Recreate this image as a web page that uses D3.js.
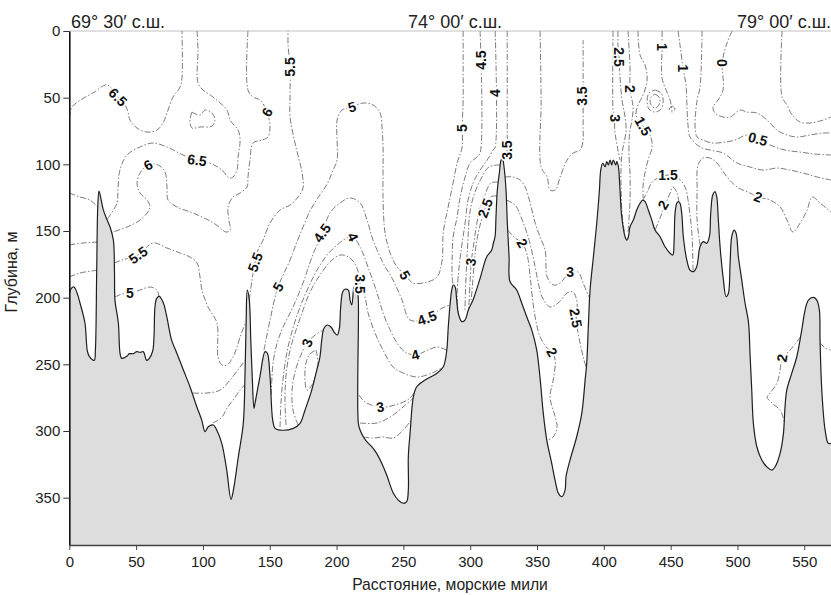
<!DOCTYPE html>
<html><head><meta charset="utf-8">
<script src="https://cdn.jsdelivr.net/npm/d3@7"></script>
<style>
html,body{margin:0;padding:0;background:#fff;}
svg{display:block;font-family:"Liberation Sans",Arial,sans-serif;}
</style></head><body>
<svg id="chart" width="831" height="595"></svg>
<script>
// ---------- DATA (distance in nautical miles, depth in m) ----------
const xTicks = [0,50,100,150,200,250,300,350,400,450,500,550];
const yTicks = [0,50,100,150,200,250,300,350];
const latLabels = [["69° 30′ с.ш.",1.3],["74° 00′ с.ш.",253.5],["79° 00′ с.ш.",499.7]];

const bottomProfile = [[0,197],[1.5,193],[3.5,192],[6,197],[8,204],[11.7,219],[13.5,240],[15,244],[18.7,247],[19.5,240],[20.5,180],[21.3,132],[22.2,120],[23.3,124],[25.4,134],[28,141],[30.5,147],[33,157],[33.8,180],[34.2,202],[36.7,219],[38,242],[39.2,245.5],[43,244],[45,242],[48,242],[50.5,240.5],[53,241],[55.4,240.5],[57.9,247],[59.9,245.5],[62.4,240],[63.4,229],[64.1,207],[65.4,200.5],[67.4,199],[70.4,204],[72.9,214],[76.6,232],[80.4,241.5],[85.3,254],[90.3,266.8],[95.4,281.8],[99.1,291.8],[101.6,300.5],[104,296.8],[107.8,295.5],[110.3,299.3],[114.1,309.3],[117.8,329.3],[121,351.3],[122.8,344.3],[126.5,319.3],[130.2,294.3],[131.5,256.8],[132.3,219.3],[133.2,194.3],[134.7,201.8],[135.8,231.8],[137,262],[138.2,283],[139,279],[142.7,259],[146.5,240.5],[148.2,241.7],[150.2,259],[152.2,291.8],[154,298],[157.7,299.3],[167.6,298],[172.7,294.2],[176.4,284.3],[181.4,269.3],[185.2,254.3],[187.6,244.3],[188.9,231.8],[190.6,223],[193.1,220.5],[195.6,221.8],[198.9,226.8],[200.6,228],[202.1,223],[203.1,206.8],[204.6,195.5],[206.3,193.7],[208.8,194.3],[210.1,201.8],[211.4,205.5],[212.6,194.3],[213.1,191.8],[214.6,190.5],[215.5,191.8],[216.3,201.8],[216.3,294.2],[217.6,299.3],[220,304.3],[222.6,308],[226.3,311.8],[230,316.8],[233.8,324.2],[237.5,333],[242.5,346.7],[246.2,351.8],[250,354.2],[252.5,353],[253.7,344.3],[253.7,319.3],[255,301.8],[257.5,274.3],[260,266.8],[266.2,261.8],[275,256.8],[279.9,251.8],[282.4,240],[283.6,222],[284.9,205.5],[286.2,194.3],[287.4,190.5],[288.7,191.8],[289.9,201.8],[291.1,211.8],[293.7,218],[296.1,216.8],[298.6,209.3],[302.4,201],[307.4,185.5],[312.4,169.3],[316.1,164.3],[317.3,159.2],[318.6,154.3],[319.3,139.3],[320.3,119.3],[321.8,106.7],[323.1,96.8],[324.1,95.5],[325.3,101.8],[326.8,119.3],[327.8,144.2],[329.1,169.3],[329.8,188],[334.8,194.3],[338.6,204.2],[342.3,214.3],[346.1,224.3],[349.8,239.3],[352.3,260.5],[354.7,286.8],[357.3,306.8],[361,324.2],[363.5,336.8],[366,346.7],[368.5,349.3],[371,344.3],[371.7,334.3],[374.7,321.8],[379.7,304.3],[383.5,286.8],[386,261.8],[387.2,249.2],[388.4,222],[389.7,194.3],[392.2,169.3],[394.7,144.2],[396.7,119.3],[397.7,104.3],[399.2,99.2],[400.9,101.8],[402.2,98],[403.4,100.5],[404.7,96.8],[405.9,100.5],[407.1,96.8],[408.9,100.5],[409.7,98],[410.9,101.8],[412.1,119.3],[413.4,139.3],[415.9,154.3],[417.2,156.8],[418.4,154.3],[419.6,146.8],[422.1,141.8],[424.6,134.3],[427.1,129.2],[429.1,126.8],[430.9,128],[433.3,134.3],[435.9,141.8],[438.3,149.3],[442.1,154.3],[445.8,161.8],[449.6,166.7],[451.6,168],[452.6,156.8],[453.3,136.7],[454.6,129.2],[455.8,128],[457,129.2],[458.3,136.7],[459.5,154.3],[462.1,171.8],[464.5,179.3],[467,180.5],[469.5,176.8],[472,161.8],[474.5,158],[477,159.2],[479,154.3],[480,136.7],[481.5,123],[483.2,120.5],[484.5,124.3],[485.7,141.8],[487,161.8],[489.5,186.8],[491.5,199.3],[493.2,196.8],[494.5,174],[495.7,154.3],[497.5,149.3],[499,151.8],[500.7,169.3],[503.2,186.8],[505.7,204.2],[508.2,218],[509.5,244.3],[510.7,269.3],[511.9,294.2],[514.5,311.8],[518.2,321.8],[521.9,326.8],[525.7,329.3],[528.2,326.8],[531.9,316.8],[534.4,301.8],[535.6,281.8],[536.9,269.3],[540.6,256.8],[544.4,244.3],[548.1,224.3],[550.6,209.3],[553.1,201.8],[556.8,199.8],[559.4,201.8],[561.3,209.3],[561.8,231.8],[563.1,269.3],[565.6,299.3],[568,309.3],[570,309.3]];

// isotherm traces (°C)
const iso65a = [[0,65],[2,57],[8,52],[17.7,46.5],[28.2,40.5],[36.4,49.5],[41.7,55.5],[43.9,60.8],[45.4,66.8],[50.7,72.8],[58.2,75.8],[65.6,74.3],[70.1,69],[73.1,61.5],[77.6,49.5],[82.9,42],[84.3,35.3],[84.3,0]];
const iso65b = [[95.6,0],[96.3,14.3],[96.3,39],[100.1,44.3],[107.5,49.5],[118,59.3],[120.3,66.8],[126.3,74.3],[127.8,81.8],[126.3,94.5],[125.5,104.3],[122.5,109.5],[119.5,110.3],[114.3,104.3],[106.8,99.8],[95.6,96.8],[85.1,93],[73.1,87],[62.6,84],[52.9,87],[43.2,93],[37.9,104.3],[36.4,119.3],[35.7,129],[28.5,141]];
const iso65loop = [[91.8,60.8],[97.8,63],[101.6,59.3],[106.8,61.5],[109,66.8],[106.8,71.3],[97.8,72],[91.8,72.8],[90.3,66.8],[91.8,60.8]];
const iso6a = [[133.7,0],[133.7,44.3],[137.5,49.5],[142.7,51.8],[148,60.8],[150.2,72],[148.7,79.5],[144.2,81.8],[137.5,84],[135.2,96.8],[133.7,109.5],[133,117],[127.8,121.5],[122.5,124.5],[118.8,132],[119.5,141.8],[120.3,149.3],[117.3,150.8],[111.3,146.3],[105.3,142.5],[92.6,136.5],[80.6,132],[73.9,126.8],[73.1,117],[71.6,105.8],[66.4,100.5],[58.9,100.5],[52.9,106.5],[50.7,114],[52.9,121.5],[58.2,126.8],[60.4,132],[58.2,136.5],[52.9,141.8],[43.2,147],[31.8,151]];
const iso6l = [[0,121.5],[8,124.5],[15.5,126.8],[21.2,132]];
const iso55l = [[0,160.5],[10.3,159],[20.8,158.3]];
const iso5l = [[0,184.5],[8,181.5],[20.4,179.5]];
const iso55a = [[33.6,174],[39.4,171.8],[51.4,168],[62.6,159],[73.1,162.8],[82.9,166.5],[90.3,169.5],[95.6,174],[97.8,184.5],[99.3,194.3],[103.8,207],[110.5,219],[111.3,244.5],[114.3,250.5],[118,250.5],[122.5,244.5],[125.5,237],[127.8,229.5],[132.2,218.3]];
const iso5a = [[34.1,199.5],[39.4,197.3],[45.4,196.5],[52.9,194.3],[60.4,192],[65.6,194.3],[67.1,199.5]];
const iso5m = [[92.6,271.5],[103.1,271.5],[112.8,269.3],[120.3,261.8],[127.8,252],[131.7,247]];
const iso45m = [[107.5,294],[114.3,289.5],[118,282.8],[122.5,276.8],[127.8,269.3],[131.2,265.5]];
const iso55b = [[134.7,201.8],[136.7,186.8],[139,173.3],[141.2,164.3],[145,156.8],[150.2,144],[157.7,134.3],[165.2,130.5],[171.2,124.5],[174.9,117.8],[174.2,106.5],[168.9,84],[165.2,64.5],[165.2,48],[165.2,27],[163.7,10.5],[163.7,0]];
const iso5big = [[145.7,239.3],[150.2,216.8],[156.2,192],[165.2,171.8],[168.9,162],[174.9,147],[180.1,135],[185.4,126],[192.9,114.8],[197.4,104.3],[200.4,96.8],[200.4,81.8],[200.4,66.8],[204.1,59.3],[211.6,57],[219.8,54],[227.3,55.5],[232.6,61.5],[234.1,74.3],[234.8,87],[234.8,102],[234.8,126.8],[236.3,151.5],[240.1,166.5],[245.3,177],[251.3,183],[257.3,189],[267.7,188.3],[275.2,184.5],[279,171.8],[279.8,151.5],[283.5,132],[287.2,114],[290.2,99],[294,87],[294,72.8],[294.7,51.8],[294.7,27],[294.7,0]];
const iso45big = [[151.1,273],[152.5,249],[155.5,234],[160,222],[167.4,207],[174.9,189],[181.6,169.5],[189.1,151.5],[195.1,136.5],[202.6,129],[210.1,125.3],[217.6,129],[222.8,141.8],[227.3,156.8],[234.8,174],[242.3,186.8],[249,201.8],[255,216.8],[267.7,215.3],[279,207.8],[284.8,205.5]];
const iso4big = [[157.7,297],[158.4,279],[160,260.3],[162.9,240.8],[167.4,222.8],[172.7,207],[178.7,192.8],[185.4,179.3],[192.9,168],[200.4,160.5],[206.4,156],[212.3,154.5],[217.6,162],[225.1,181.5],[230.3,196.5],[234.8,211.5],[240.1,224.3],[245.3,234],[251.3,240.8],[258.8,243],[268.5,239.3],[275.2,237],[282.4,239.3]];
const iso35big = [[162.2,295.5],[161.4,276.8],[162.2,258],[165.2,239.3],[169.7,224.3],[174.9,209.3],[180.1,195.8],[187.6,183],[195.1,173.3],[202.6,168],[210.1,170.3],[215.3,177.8],[217.6,189.8],[221.3,199.5],[223.6,211.5],[228.8,226.5],[234.8,239.3],[242.3,252],[249.8,256.5],[260.2,259.5],[271.5,256.5],[279,252.3]];
const iso3pocket = [[171.2,295.5],[167.4,284.3],[166.7,269.3],[168.9,255.8],[172.7,244.5],[177.9,234],[183.9,228],[189.6,224.5]];
const iso3loop = [[184.6,239.3],[186.1,250.5],[181.6,265.5],[177.9,269.3],[176.4,254.3],[179.4,243],[184.6,239.3]];
const iso3trough = [[216.8,273],[221.3,278.3],[232.6,282],[243.8,280.5],[255,275.3],[259.7,267.8]];
const iso25trough = [[217.6,294],[230.3,294],[240.1,289.5],[249.8,282],[257.4,275.3]];
const iso2trough = [[220,304.5],[227.3,305.3],[234.8,304.5],[242.3,305.3],[249.8,299.3],[255.9,291.8]];
const iso45r = [[307.4,0],[307.4,91.5],[305.1,94.5],[299.9,99],[296.2,109.5],[292.5,124.5],[290.2,139.5],[287.2,154.5],[286.5,169.5],[286.5,184.5],[287.2,190.5]];
const iso4r = [[318.7,0],[318.7,87],[317.2,89.3],[312.7,96.8],[307.4,104.3],[302.2,114],[298.4,126.8],[296.2,144],[293.2,164.3],[291,184.5],[290.2,199.5],[291.2,213]];
const iso35r = [[327.7,0],[327.7,78],[327.7,89.3],[325,96]];
const iso35p = [[322.5,100.5],[314,102],[307.5,112],[302.5,124],[299.5,138],[298.3,156.8],[297.3,175.5],[296.5,194.3],[296,210.8]];
const iso3p = [[321,113.3],[315.5,114],[311.5,121.5],[307.5,132],[304.5,147],[302.3,162],[300.8,173.3],[299.8,190.5],[298.9,208]];
const iso25p = [[320.1,123.8],[314.9,124.5],[311.2,132.8],[307.4,145.5],[304.4,160.5],[302.9,175.5],[301.4,194.3],[300.7,201.8]];
const iso3s = [[326,109.5],[332.1,109.5],[337.4,111.8],[341.1,117],[344.9,129],[348.6,144],[352.3,154.5],[356.1,164.3],[357.6,184.5],[362.1,190.5],[367.3,189],[374.7,180.8],[380.7,180.8],[384.5,189],[388.8,199.5]];
const iso25s = [[327.1,126.8],[333.6,130.5],[338.9,141.8],[343.4,154.5],[347.1,169.5],[350.1,184.5],[353.8,199.5],[359.8,207],[365.8,204],[372.5,196.5],[377,195.8],[380,204],[379.3,215.3],[382.2,234],[385.2,246.8],[386.9,252.8]];
const iso2s = [[328.1,149.3],[333.6,155.3],[338.9,159],[342.6,168],[344.9,184.5],[346.3,198],[348.6,214.5],[352.3,229.5],[357.6,237.8],[361.3,240.8],[363.6,246.8],[362.1,261.8],[359.8,274.5],[363.6,289.5],[365,297],[362.1,304.5],[357.5,307]];
const iso35u = [[352.3,0],[353.1,51.8],[353.1,102],[357.6,109.5],[359.8,119.3],[363.6,119.3],[367.3,109.5],[372.5,96.8],[377,91.5],[382.2,89.3],[384.5,81.8],[384.5,74.3],[384.5,48.8],[384.5,16.5],[384.5,6.8]];
const iso3b = [[406.9,0],[406.9,59.3],[407.7,65.3],[408.4,76.5],[410.6,89.3],[412.1,96.8]];
const iso25b = [[410.6,0],[410.6,12],[411.4,19.5],[412.1,34.5],[413.6,51.8],[415.9,64.5],[416.7,74.3],[415.1,84],[413.6,91.5],[412.9,102],[412.9,117],[413.6,136.5],[415.5,151.5]];
const iso2b = [[418.1,0],[419.6,27],[419.6,43.5],[421.9,57],[421.1,66.8],[419.6,74.3],[418.9,81.8],[418.9,94.5],[419.6,106.5],[419.6,126.8],[418.1,151.5]];
const iso15b = [[425.6,0],[427.1,18],[430.9,25.5],[432.4,36.8],[429.4,48],[425.6,55.5],[424.1,63],[429.4,71.3],[434.6,78],[436.1,87],[433.1,96.8],[430.9,105.8],[429.4,115.5],[429.4,125.3]];
const isoOvalOuter = [[438.3,44.3],[442.9,46.5],[444.4,52.5],[442.9,58.5],[438.3,60.8],[433.8,58.5],[432.4,52.5],[433.8,46.5],[438.3,44.3]];
const isoOvalInner = [[438.3,47.3],[441.3,49.5],[442.1,52.5],[441.3,55.5],[438.3,57.8],[435.3,55.5],[434.6,52.5],[435.3,49.5],[438.3,47.3]];
const isoDot = [[451.1,56.3],[453.3,58.5],[451.1,60.8],[448.9,58.5],[451.1,56.3]];
const iso1a = [[443.6,0],[443.6,12],[443.6,35.3],[446.6,44.3],[449.6,51.8],[451,60]];
const iso1b = [[455.6,0],[457,10.5],[459.3,27.8],[461.5,40.5],[462.3,59.3],[463,70.5],[464.5,79.5],[472,87],[479.5,89.3],[489.2,91.5],[499.7,99],[509.4,102],[519.2,104.3],[529.6,102.8],[539.4,104.3],[549.1,106.5],[559.6,109.5],[570,111.8]];
const iso05 = [[473.5,0],[472,42],[469.8,51.8],[468.3,72],[469.8,79.5],[474.2,81.8],[481,84],[490.7,83.3],[498.2,81.8],[507.2,78],[515.4,81],[524.4,85.5],[535.6,89.3],[546.9,90.8],[558.1,92.3],[570,93]];
const iso0a = [[496,0],[492.2,9],[488.5,24],[489.2,34.5],[489.2,44.3],[485.5,51.8],[481.7,57],[483.2,61.5],[489.2,64.5],[494.5,64.5],[502,59.3],[507.2,60.8],[514.7,61.5],[522.2,66.8],[529.6,74.3],[537.1,78],[544.6,79.5],[554.4,78],[564.1,76.5],[570,76.5]];
const iso0b = [[533.4,0],[533.4,49.5],[537.1,55.5],[540.9,63],[546.9,68.3],[554.4,69],[564.1,66.8],[570,64.5]];
const iso2e = [[472,160.5],[469.8,141.8],[469.8,119.3],[470.5,100.5],[474.2,95.3],[479.5,95.3],[484.7,99],[492.2,109.5],[499.7,117],[509.4,121.5],[515.4,124.5],[524.4,126.8],[531.9,132],[537.1,141.8],[541.6,150.8],[546.9,144],[552.1,134.3],[555.9,124.5],[561.8,129],[570,135.8]];
const iso15e = [[429.4,126.8],[433.1,119.3],[436.9,112.5],[448.1,108],[455.6,110.3],[460.8,117],[463,126.8],[464.5,138],[466,153],[466.8,180]];
const iso2v = [[438.5,149],[443.6,136.5],[449.6,121.5],[451.8,117],[454.8,121.5],[456,127.5]];
const iso2f = [[547.1,229.5],[539.4,239.3],[533.4,245.3],[531.9,254.3],[529.6,264],[524.4,271.5],[522.2,274.5],[525.9,279],[531.9,284.3],[534.1,289.5],[535.4,294]];
const iso2g = [[561.9,234],[565.6,237.8],[570,239.3]];

const contourLines = [
  {level:6.5, points:iso65a},{level:6.5, points:iso65b},{level:6.5, points:iso65loop},
  {level:6, points:iso6a},{level:6, points:iso6l},{level:5.5, points:iso55l},{level:5, points:iso5l},
  {level:5.5, points:iso55a},{level:5, points:iso5a},{level:5, points:iso5m},{level:4.5, points:iso45m},
  {level:5.5, points:iso55b},{level:5, points:iso5big},{level:4.5, points:iso45big},{level:4, points:iso4big},
  {level:3.5, points:iso35big},{level:3, points:iso3pocket},{level:3, points:iso3loop},
  {level:3, points:iso3trough},{level:2.5, points:iso25trough},{level:2, points:iso2trough},
  {level:4.5, points:iso45r},{level:4, points:iso4r},{level:3.5, points:iso35r},
  {level:3.5, points:iso35p},{level:3, points:iso3p},{level:2.5, points:iso25p},
  {level:3, points:iso3s},{level:2.5, points:iso25s},{level:2, points:iso2s},{level:3.5, points:iso35u},
  {level:3, points:iso3b},{level:2.5, points:iso25b},{level:2, points:iso2b},{level:1.5, points:iso15b},
  {level:1, points:isoOvalOuter},{level:0.5, points:isoOvalInner},{level:1, points:isoDot},
  {level:1, points:iso1a},{level:1, points:iso1b},{level:0.5, points:iso05},{level:0, points:iso0a},{level:0, points:iso0b},
  {level:2, points:iso2e},{level:1.5, points:iso15e},{level:2, points:iso2v},{level:2, points:iso2f},{level:2, points:iso2g}
];

// contour labels: text, distance, depth, rotation
const labelText  = ["6.5","6.5","6","6","5.5","5","5.5","5.5","5","5","5","5","4.5","4.5","4","4","3.5","3","3","4.5","4","3.5","3","2.5","3","2.5","2","2","3.5","3","2.5","2","1.5","1","1","0","0.5","1.5","2","2","2"];
const labelDist  = [36.4,95.6,148,58.9,51.4,45.4,139,165.2,156.2,211.6,251.3,294,189.1,267.7,212.3,258.8,217.6,177.9,232.6,308.2,318.7,327.7,300.4,311.2,374.7,379,338.9,361.3,383.7,408,411.4,419.6,429.4,443.6,459.3,488.5,515.4,448.1,444.4,515.4,533.4];
const labelDepth = [49.5,96.8,60.8,100.5,168,196.5,173.3,27,192,57,183,72.8,151.5,215.3,154.5,243,189.8,234,282,21.8,46.5,89.3,173.3,132.8,180.8,215.3,159,240.8,48.8,65.3,19.5,43.5,71.3,12,27.8,24,81,108,130.5,124.5,245.3];
const labelAngle = [45,8,-60,-30,-35,0,-70,-90,-60,-15,60,-90,-55,-20,65,-15,90,-70,-10,-90,-90,-90,-80,-70,0,80,60,60,-90,90,90,90,60,90,90,90,15,0,-60,20,-80];

// ---------- DRAW ----------
const W = 831, H = 595;
const x = d3.scaleLinear().domain([0,570]).range([69.3,831]);
const y = d3.scaleLinear().domain([0,385.5]).range([31,545]);
const svg = d3.select("#chart");

svg.append("defs").append("clipPath").attr("id","plot")
  .append("rect").attr("x",x(0)).attr("y",y(0)).attr("width",W-x(0)).attr("height",y(385.5)-y(0));

svg.append("line").attr("x1",x(0)).attr("x2",W).attr("y1",y(0)).attr("y2",y(0))
  .attr("stroke","#d6d6d6").attr("stroke-width",1.3);

const line = d3.line().x(d=>x(d[0])).y(d=>y(d[1])).curve(d3.curveCatmullRom.alpha(0.5));
const gPlot = svg.append("g").attr("clip-path","url(#plot)");

gPlot.selectAll("path.iso").data(contourLines).join("path").attr("class","iso")
  .attr("d",d=>line(d.points)).attr("fill","none")
  .attr("stroke","#505050").attr("stroke-width",0.75)
  .attr("stroke-dasharray","6,2,1.5,2");

const area = d3.area().x(d=>x(d[0])).y0(y(385.5)).y1(d=>y(d[1])).curve(d3.curveCatmullRom.alpha(0.5));
gPlot.append("path").datum(bottomProfile).attr("d",area).attr("fill","#dddddd");
gPlot.append("path").datum(bottomProfile).attr("d",line).attr("fill","none")
  .attr("stroke","#1e1e1e").attr("stroke-width",1.2);

// contour labels
const labels = labelText.map((t,i)=>({t, d:labelDist[i], z:labelDepth[i], a:labelAngle[i]}));
svg.append("g").selectAll("text").data(labels).join("text")
  .attr("transform",d=>`translate(${x(d.d)},${y(d.z)}) rotate(${d.a})`)
  .attr("text-anchor","middle").attr("dominant-baseline","central")
  .attr("font-size",14).attr("font-weight","bold").attr("fill","#111")
  .attr("stroke","#fff").attr("stroke-width",3.5).attr("paint-order","stroke")
  .text(d=>d.t);

// axes
const yAxis = svg.append("g").attr("transform",`translate(${x(0)},0)`)
  .call(d3.axisLeft(y).tickValues(yTicks).tickSize(6).tickPadding(3).tickSizeOuter(0));
yAxis.select(".domain").attr("stroke","#111").attr("stroke-width",1.6);
yAxis.selectAll(".tick line").attr("stroke","#333").attr("stroke-width",1);
yAxis.selectAll(".tick text").attr("font-size",15).attr("fill","#222").attr("font-family","Liberation Sans, Arial, sans-serif");

const xAxis = svg.append("g").attr("transform",`translate(0,${y(385.5)})`)
  .call(d3.axisBottom(x).tickValues(xTicks).tickSize(5).tickPadding(6.5).tickSizeOuter(0));
xAxis.select(".domain").attr("stroke","#444").attr("stroke-width",1.6);
xAxis.selectAll(".tick line").attr("stroke","#444").attr("stroke-width",1);
xAxis.selectAll(".tick text").attr("font-size",15).attr("fill","#222").attr("font-family","Liberation Sans, Arial, sans-serif");

// titles
svg.append("text").attr("x",450).attr("y",590).attr("text-anchor","middle")
  .attr("font-size",15.7).attr("fill","#222").text("Расстояние, морские мили");
svg.append("text").attr("transform",`translate(17,272) rotate(-90)`)
  .attr("text-anchor","middle").attr("font-size",16).attr("fill","#222").text("Глубина, м");

svg.append("g").selectAll("text").data(latLabels).join("text")
  .attr("x",d=>x(d[1])).attr("y",y(0)-3).attr("font-size",18).attr("fill","#222")
  .text(d=>d[0]);
</script>
</body></html>
